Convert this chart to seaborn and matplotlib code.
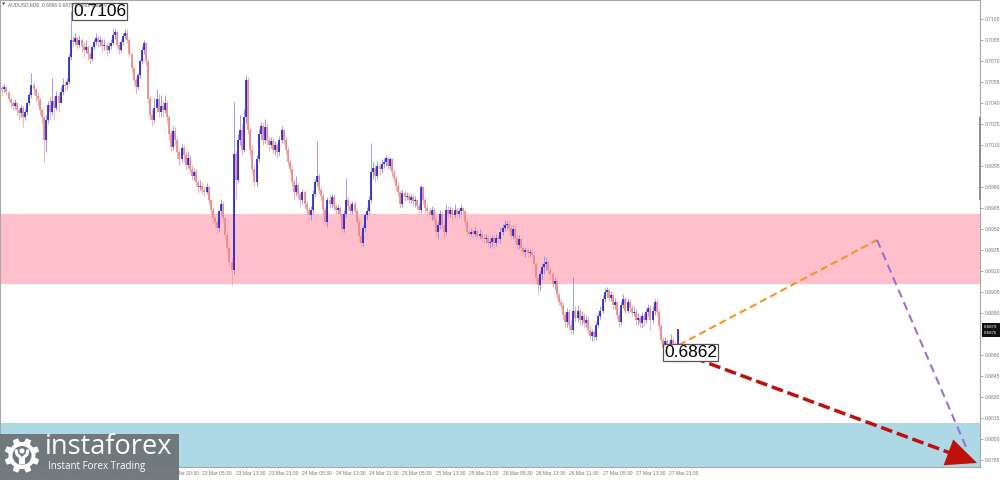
import numpy as np
import matplotlib
matplotlib.use("Agg")
import matplotlib.pyplot as plt
import seaborn as sns
from matplotlib.patches import Rectangle, Circle, Polygon

# ---------------- data (prices as pips above BASE) ----------------
BASE = 0.6800
first_open = 251
closes = [
    250, 252, 248, 243, 240, 238, 240, 235, 233, 237,
    230, 234, 240, 246, 253, 250, 245, 243, 235, 230,
    214, 228, 239, 234, 242, 237, 245, 240, 248, 253,
    253, 255, 273, 285, 284, 287, 282, 285, 281, 278,
    280, 275, 272, 280, 284, 287, 284, 285, 281, 282,
    278, 281, 283, 289, 291, 282, 278, 284, 288, 290,
    285, 275, 265, 257, 252, 260, 270, 278, 283, 270,
    243, 232, 228, 237, 243, 234, 238, 235, 240, 230,
    218, 209, 220, 214, 205, 200, 208, 203, 196, 201,
    193, 188, 191, 184, 180, 181, 178, 177, 180, 171,
    164, 158, 155, 151, 163, 168, 158, 146, 137, 127, 121,
    204, 185, 214, 221, 207, 230, 257, 221, 207, 193,
    184, 200, 218, 224, 214, 223, 214, 210, 213, 207,
    210, 205, 214, 221, 214, 207, 198, 193, 184, 177,
    182, 175, 171, 177, 168, 164, 160, 164, 175, 184,
    188, 178, 174, 164, 155, 171, 168, 173, 167, 164,
    165, 161, 150, 161, 171, 167, 163, 168, 163, 155,
    145, 140, 151, 160, 163, 171, 191, 194, 188, 195,
    193, 197, 198, 201, 195, 200, 191, 187, 181, 177,
    168, 176, 173, 174, 171, 173, 170, 171, 167, 164,
    180, 171, 165, 163, 160, 164, 157, 148, 153, 161,
    153, 148, 164, 161, 164, 160, 164, 161, 163, 165,
    163, 155, 148, 147, 148, 147, 149, 145, 147, 144,
    143, 144, 140, 141, 144, 140, 144, 143, 148, 151,
    153, 154, 151, 145, 150, 144, 139, 143, 137, 134,
    135, 133, 134, 132, 125, 115, 110, 118, 123, 125,
    127, 121, 118, 111, 113, 103, 98, 96, 89, 84,
    91, 82, 78, 92, 87, 92, 85, 88, 83, 85,
    78, 74, 77, 73, 82, 88, 92, 100, 105, 107,
    101, 103, 96, 98, 89, 84, 96, 100, 92, 98,
    94, 90, 91, 85, 87, 83, 88, 85, 91, 94,
    85, 92, 98, 91, 81, 71, 65, 70, 68, 64,
    71, 68, 66, 79,
]
highs = [
    253, 254, 252, 248, 244, 242, 243, 241, 237, 239,
    238, 236, 241, 248, 262, 255, 251, 248, 244, 237,
    231, 232, 242, 245, 258, 245, 249, 248, 252, 258,
    256, 258, 275, 306, 288, 290, 288, 289, 287, 284,
    285, 281, 277, 281, 286, 290, 289, 288, 286, 286,
    283, 284, 286, 293, 294, 292, 284, 286, 290, 293,
    293, 287, 277, 267, 259, 262, 272, 281, 285, 284,
    272, 246, 236, 244, 250, 247, 246, 242, 246, 242,
    232, 220, 224, 223, 216, 207, 211, 210, 206, 206,
    203, 196, 194, 193, 186, 185, 184, 181, 183, 181,
    172, 166, 160, 157, 164, 172, 170, 159, 149, 139, 130,
    241, 207, 218, 232, 225, 236, 260, 259, 224, 210,
    196, 203, 222, 227, 226, 229, 225, 217, 216, 215,
    213, 212, 217, 224, 222, 216, 209, 200, 195, 186,
    188, 184, 177, 179, 178, 170, 166, 167, 178, 186,
    213, 190, 180, 176, 166, 173, 175, 175, 175, 168,
    168, 167, 162, 164, 187, 173, 170, 170, 170, 165,
    157, 148, 153, 162, 166, 174, 212, 198, 196, 199,
    198, 200, 201, 203, 202, 202, 201, 193, 189, 184,
    178, 179, 178, 177, 176, 175, 175, 174, 172, 169,
    182, 181, 173, 168, 165, 167, 166, 159, 156, 164,
    163, 156, 168, 167, 167, 166, 168, 166, 165, 168,
    166, 164, 157, 150, 151, 150, 152, 150, 150, 149,
    147, 147, 146, 144, 146, 146, 147, 146, 152, 154,
    157, 156, 157, 153, 153, 151, 146, 146, 144, 139,
    137, 137, 136, 136, 134, 127, 117, 121, 126, 131,
    130, 128, 123, 120, 116, 114, 105, 100, 98, 91,
    94, 93, 85, 116, 95, 96, 94, 92, 90, 89,
    88, 81, 79, 78, 84, 90, 95, 103, 108, 109,
    108, 106, 104, 101, 99, 92, 99, 104, 102, 101,
    100, 96, 95, 93, 90, 89, 91, 90, 93, 97,
    96, 95, 100, 100, 93, 83, 73, 73, 72, 70,
    75, 73, 70, 79,
]
lows = [
    246, 248, 246, 241, 237, 235, 236, 232, 228, 230,
    223, 228, 232, 239, 244, 247, 242, 238, 232, 226,
    198, 205, 226, 228, 232, 228, 235, 234, 240, 246,
    249, 250, 254, 271, 280, 282, 279, 280, 277, 273,
    276, 271, 268, 270, 279, 282, 280, 281, 277, 278,
    274, 276, 279, 282, 286, 280, 275, 277, 282, 286,
    283, 273, 262, 254, 247, 250, 258, 268, 275, 267,
    240, 228, 224, 226, 234, 230, 231, 230, 233, 226,
    214, 205, 207, 210, 201, 196, 198, 198, 193, 194,
    190, 185, 185, 181, 176, 178, 175, 174, 175, 168,
    161, 155, 150, 147, 148, 160, 155, 143, 133, 124, 110,
    118, 172, 183, 210, 203, 205, 226, 218, 203, 190,
    181, 181, 198, 214, 210, 212, 210, 206, 208, 204,
    203, 202, 203, 212, 211, 204, 196, 190, 181, 172,
    174, 172, 166, 168, 165, 161, 157, 157, 161, 173,
    181, 175, 171, 161, 153, 152, 165, 165, 164, 161,
    161, 158, 147, 148, 159, 164, 160, 161, 160, 153,
    142, 138, 138, 148, 157, 160, 169, 186, 184, 186,
    189, 190, 194, 195, 193, 193, 188, 184, 178, 174,
    165, 166, 170, 171, 168, 169, 167, 166, 164, 162,
    162, 168, 162, 159, 158, 157, 154, 145, 143, 150,
    150, 144, 146, 158, 159, 157, 158, 158, 158, 160,
    160, 153, 146, 144, 145, 144, 145, 143, 143, 142,
    140, 140, 138, 137, 138, 137, 138, 140, 140, 146,
    149, 150, 148, 143, 143, 141, 136, 136, 134, 131,
    130, 130, 130, 130, 123, 112, 104, 106, 114, 118,
    121, 118, 114, 108, 107, 100, 96, 93, 86, 80,
    80, 78, 75, 75, 84, 84, 82, 82, 80, 80,
    75, 71, 70, 70, 71, 80, 86, 90, 98, 101,
    99, 99, 93, 93, 86, 80, 82, 94, 90, 90,
    91, 88, 88, 82, 82, 80, 80, 81, 83, 88,
    78, 83, 89, 88, 78, 68, 63, 63, 64, 62,
    62, 64, 63, 64,
]

time_labels = ["19 Mar 04:30", "19 Mar 12:30", "19 Mar 20:30", "20 Mar 04:30",
               "20 Mar 12:30", "20 Mar 20:30", "23 Mar 05:30", "23 Mar 13:30",
               "23 Mar 21:30", "24 Mar 05:30", "24 Mar 13:30", "24 Mar 21:30",
               "25 Mar 05:30", "25 Mar 13:30", "25 Mar 21:30", "26 Mar 05:30",
               "26 Mar 13:30", "26 Mar 21:30", "27 Mar 05:30", "27 Mar 13:30",
               "27 Mar 21:30"]
bars_per_label = 16
price_ticks = [0.6785, 0.6800, 0.6815, 0.6830, 0.6845, 0.6860, 0.6875, 0.6890,
               0.6905, 0.6920, 0.6935, 0.6950, 0.6965, 0.6980, 0.6995, 0.7010,
               0.7025, 0.7040, 0.7055, 0.7070, 0.7085, 0.7100]
hidden_tick = 0.6875  # covered by the current-price marker in the reference

resist_zone = (0.69109, 0.69609)
support_zone = (0.6770, 0.68116)

orange_x, orange_y = [324.7, 419.7], [0.68675, 0.69425]
purple_x, purple_y = [419.7, 462.4], [0.69425, 0.67946]
red_x, red_y = [324.2, 467.7], [0.68625, 0.67832]

swing_labels = [("0.7106", 33.9, 0.71057), ("0.6862", 317.5, 0.68621)]
title_text = "AUDUSD,M30  0.6866 0.6879 0.6862 0.6879"
last_prices = ["0.6879", "0.6876"]

# ---------------- figure ----------------
sns.set_theme(style="white")
plt.rcParams['font.family'] = ['Liberation Sans', 'DejaVu Sans']

W, H = 1000, 480
fig = plt.figure(figsize=(W / 100, H / 100), dpi=100)
ax = fig.add_axes([0, 13 / H, 980 / W, 467 / H])
ax.set_facecolor("white")

c = np.array(closes, float) / 10000 + BASE
h = np.array(highs, float) / 10000 + BASE
l = np.array(lows, float) / 10000 + BASE
o = np.concatenate([[first_open / 10000 + BASE], c[:-1]])
n = len(c)
idx = np.arange(n)
hi = np.maximum.reduce([h, o, c])
lo = np.minimum.reduce([l, o, c])
bull = c > o

# zones
ax.axhspan(*resist_zone, color="#ffc0cb", zorder=0, lw=0)
ax.axhspan(*support_zone, color="#add8e6", zorder=0, lw=0)

# candles
ax.vlines(idx[bull], lo[bull], hi[bull], color="#8c8cf0", lw=0.6, zorder=2)
ax.vlines(idx[~bull], lo[~bull], hi[~bull], color="#f4a3a3", lw=0.6, zorder=2)
btop = np.maximum(o, c)
bbot = np.minimum(o, c)
small = (btop - bbot) < 0.00004
btop = np.where(small, btop + 0.00002, btop)
bbot = np.where(small, bbot - 0.00002, bbot)
ax.vlines(idx[bull], bbot[bull], btop[bull], color="#1414d8", lw=1.15, zorder=3)
ax.vlines(idx[~bull], bbot[~bull], btop[~bull], color="#ef8080", lw=1.15, zorder=3)

# forecast lines
sns.lineplot(x=orange_x, y=orange_y, ax=ax, color="#f7941d", lw=1.5,
             linestyle=(0, (3.5, 2)), zorder=5)
sns.lineplot(x=purple_x, y=purple_y, ax=ax, color="#9b6fd6", lw=1.5,
             linestyle=(0, (4, 2.5)), zorder=5)
sns.lineplot(x=[red_x[0], red_x[0] + (red_x[1] - red_x[0]) * 0.95],
             y=[red_y[0], red_y[0] + (red_y[1] - red_y[0]) * 0.95],
             ax=ax, color="#c0100c", lw=2.5, linestyle=(0, (3.4, 1.4)), zorder=6)
ax.annotate("", xy=(red_x[1], red_y[1]),
            xytext=(red_x[0] + (red_x[1] - red_x[0]) * 0.9,
                    red_y[0] + (red_y[1] - red_y[0]) * 0.9),
            arrowprops=dict(arrowstyle="-|>,head_length=1.0,head_width=0.45",
                            mutation_scale=22, color="#c0100c", lw=0,
                            shrinkA=0, shrinkB=0),
            zorder=7, annotation_clip=False)

# swing labels
for txt, bx, by in swing_labels:
    ax.text(bx, by, txt, ha="left", va="center", fontsize=12.5, color="black",
            family="Liberation Sans", zorder=8,
            bbox=dict(boxstyle="square,pad=0.08", fc="white", ec="#555555", lw=0.9))

# axes limits / ticks
ax.set_xlim(-1.104, 469.1)
ax.set_ylim(0.678033, 0.71139)
ax.yaxis.tick_right()
ax.set_yticks(price_ticks)
ax.set_yticklabels(["" if abs(p - hidden_tick) < 1e-9 else f"{p:.4f}" for p in price_ticks])
ax.set_xticks(np.arange(len(time_labels)) * bars_per_label)
ax.set_xticklabels(time_labels, ha="left")
ax.tick_params(axis="both", labelsize=3.6, colors="#8a8a8a", length=2, width=0.5, pad=1.2)
ax.tick_params(axis="y", labelcolor="#777777")
ax.tick_params(axis="x", labelcolor="#777777")
for s in ax.spines.values():
    s.set_color("#a8a8a8")
    s.set_linewidth(0.8)
ax.grid(False)

# ---------------- overlay in pixel coordinates ----------------
ov = fig.add_axes([0, 0, 1, 1], zorder=10)
ov.set_xlim(0, W)
ov.set_ylim(H, 0)
ov.axis("off")
ov.patch.set_alpha(0)

# title
ov.text(2, 5, "\u25BC", fontsize=3, color="#555555", va="center", ha="left",
        family=["DejaVu Sans"])
ov.text(8.5, 5, title_text, fontsize=3.5, color="#666666", va="center", ha="left")

# right-axis scroll mark
ov.add_patch(Rectangle((979.2, 117), 2, 83, color="#8f8f8f", lw=0))

# last price labels
ov.add_patch(Rectangle((981.5, 323), 18.5, 14, color="#111111", lw=0))
ov.text(984, 326.6, last_prices[0], fontsize=3.2, color="white", va="center", ha="left")
ov.text(984, 333.4, last_prices[1], fontsize=3.2, color="white", va="center", ha="left")

# logo
logo_bg = "#6e7679"
ov.add_patch(Rectangle((0, 434), 179, 46, color=logo_bg, lw=0, alpha=0.96))
gx, gy = 22, 455.5
for k in range(8):
    ang = np.deg2rad(k * 45 + 22.5)
    ux, uy = np.cos(ang), np.sin(ang)
    px, py = -uy, ux
    r0, r1, tw = 11, 17.5, 3.4
    pts = [(gx + ux * r0 + px * tw, gy + uy * r0 + py * tw),
           (gx + ux * r1 + px * tw * 0.8, gy + uy * r1 + py * tw * 0.8),
           (gx + ux * r1 - px * tw * 0.8, gy + uy * r1 - py * tw * 0.8),
           (gx + ux * r0 - px * tw, gy + uy * r0 - py * tw)]
    ov.add_patch(Polygon(pts, closed=True, color="white", lw=0))
ov.add_patch(Circle((gx, gy), 13.5, color="white", lw=0))
ov.add_patch(Circle((gx, gy), 9.5, color=logo_bg, lw=0))
ov.add_patch(Circle((gx, gy - 4.5), 2.6, color="white", lw=0))
ov.plot([gx - 6, gx - 5, gx - 1.5, gx - 1.5], [gy - 6, gy - 1, gy + 2, gy + 9],
        color="white", lw=2.2, solid_capstyle="butt")
ov.plot([gx + 6, gx + 5, gx + 1.5, gx + 1.5], [gy - 6, gy - 1, gy + 2, gy + 9],
        color="white", lw=2.2, solid_capstyle="butt")
ov.text(45, 447.5, "instaforex", fontsize=19.5, color="white", va="center", ha="left",
        family=["Open Sans", "DejaVu Sans"])
ov.text(48, 466.2, "Instant Forex Trading", fontsize=7, color="white", va="center",
        ha="left", family=["Open Sans", "DejaVu Sans"])

fig.savefig("out.png", dpi=100)
